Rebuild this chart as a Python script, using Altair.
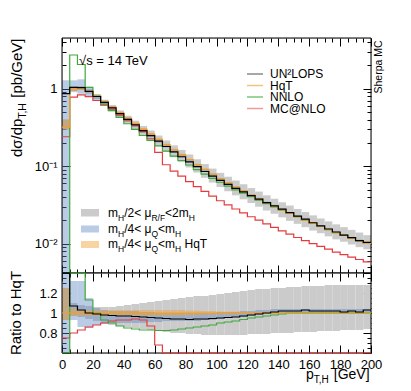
import altair as alt
import pandas as pd

# ---------------- data ----------------
bin_lo = list(range(0, 200, 5))
bin_hi = list(range(5, 205, 5))

# HqT spectrum [pb/GeV] per 5 GeV bin
hqt = [0.32, 0.97, 1.00, 0.92, 0.80, 0.68, 0.58, 0.49, 0.415, 0.355,
       0.30, 0.26, 0.222, 0.19, 0.163, 0.141, 0.122, 0.105, 0.091, 0.079,
       0.069, 0.061, 0.054, 0.048, 0.0425, 0.038, 0.034, 0.0305, 0.0274, 0.0247,
       0.0223, 0.0202, 0.0183, 0.0167, 0.0152, 0.0139, 0.0128, 0.0118, 0.0109, 0.0101]

# ratios to HqT
ratio_un2lops = [2.7, 1.07, 1.03, 1.0, 0.99, 0.98, 0.975, 0.97, 0.97, 0.965,
                 0.96, 0.955, 0.95, 0.945, 0.94, 0.94, 0.935, 0.94, 0.94, 0.945,
                 0.95, 0.955, 0.96, 0.97, 0.98, 0.99, 1.0, 1.01, 1.02, 1.02,
                 1.02, 1.03, 1.02, 1.02, 1.02, 1.02, 1.01, 1.02, 1.01, 1.03]
ratio_nnlo = [0.01, 2.8, 2.05, 1.13, 1.0, 0.93, 0.9, 0.87, 0.85, 0.84,
              0.83, 0.83, 0.825, 0.825, 0.83, 0.84, 0.85, 0.86, 0.87, 0.88,
              0.9, 0.91, 0.92, 0.935, 0.95, 0.96, 0.97, 0.98, 0.99, 1.0,
              1.0, 1.0, 1.0, 1.0, 1.0, 1.0, 1.0, 1.0, 1.0, 1.0]
ratio_mcnlo = [0.75, 0.80, 0.83, 0.86, 0.88, 0.90, 0.92, 0.93, 0.93, 0.94,
               0.93, 0.87, 0.68, 0.55, 0.53, 0.53, 0.52, 0.52, 0.52, 0.52,
               0.52, 0.52, 0.52, 0.52, 0.525, 0.53, 0.53, 0.535, 0.535, 0.54,
               0.54, 0.545, 0.55, 0.555, 0.56, 0.56, 0.565, 0.57, 0.575, 0.58]
ratio_hqt = [1.0, 1.0, 1.0, 1.0, 1.0, 1.0, 1.0, 1.0, 1.0, 1.0,
             1.0, 1.0, 1.0, 1.0, 1.0, 1.0, 1.0, 1.0, 1.0, 1.0,
             1.0, 1.0, 1.0, 1.0, 1.0, 1.0, 1.0, 1.0, 1.0, 1.0,
             1.0, 1.0, 1.0, 1.0, 1.0, 1.0, 1.0, 1.0, 1.0, 1.0]

gray_lo = [0.93, 0.97, 0.96, 0.94, 0.92, 0.90, 0.88, 0.87, 0.86, 0.85,
           0.84, 0.83, 0.82, 0.81, 0.80, 0.80, 0.79, 0.79, 0.78, 0.78,
           0.78, 0.78, 0.78, 0.78, 0.79, 0.79, 0.79, 0.80, 0.80, 0.80,
           0.81, 0.81, 0.81, 0.82, 0.82, 0.82, 0.83, 0.83, 0.83, 0.84]
gray_hi = [1.25, 1.10, 1.08, 1.07, 1.06, 1.06, 1.06, 1.07, 1.08, 1.09,
           1.10, 1.11, 1.12, 1.13, 1.14, 1.15, 1.16, 1.17, 1.17, 1.18,
           1.19, 1.20, 1.21, 1.22, 1.23, 1.24, 1.24, 1.25, 1.25, 1.26,
           1.26, 1.27, 1.27, 1.27, 1.28, 1.28, 1.28, 1.28, 1.28, 1.28]
blue_lo = [0.01, 0.93, 0.86, 0.85, 0.88, 0.89, 0.90, 0.90, 0.90, 0.90,
           0.90, 0.91, 0.91, 0.92, 0.92, 0.92, 0.92, 0.92, 0.93, 0.93,
           0.94, 0.95, 0.96, 0.96, 0.97, 0.98, 0.99, 1.0, 1.0, 1.0,
           1.0, 1.0, 1.0, 1.0, 1.0, 1.0, 1.0, 1.0, 1.0, 1.0]
blue_hi = [4.0, 1.32, 1.32, 1.15, 1.05, 1.03, 1.02, 1.02, 1.02, 1.02,
           1.01, 1.01, 1.0, 1.0, 1.0, 1.0, 1.0, 1.0, 1.0, 1.0,
           1.01, 1.01, 1.01, 1.02, 1.02, 1.03, 1.03, 1.04, 1.04, 1.04,
           1.04, 1.04, 1.04, 1.04, 1.04, 1.04, 1.04, 1.04, 1.04, 1.04]
orange_lo = [0.93, 0.97, 0.97, 0.97, 0.97, 0.97, 0.97, 0.97, 0.97, 0.97,
             0.97, 0.97, 0.97, 0.97, 0.97, 0.97, 0.975, 0.975, 0.98, 0.98,
             0.985, 0.985, 0.985, 0.99, 0.99, 0.99, 0.99, 0.99, 0.99, 0.99,
             0.99, 0.99, 0.99, 0.99, 0.99, 0.99, 0.99, 0.99, 0.99, 0.99]
orange_hi = [1.25, 1.05, 1.03, 1.03, 1.03, 1.03, 1.03, 1.03, 1.03, 1.03,
             1.03, 1.03, 1.03, 1.03, 1.03, 1.03, 1.025, 1.025, 1.02, 1.02,
             1.015, 1.015, 1.015, 1.01, 1.01, 1.01, 1.01, 1.01, 1.01, 1.01,
             1.01, 1.01, 1.01, 1.01, 1.01, 1.01, 1.01, 1.01, 1.01, 1.01]

x_ticks = list(range(0, 205, 5))
x_label_values = [0, 20, 40, 60, 80, 100, 120, 140, 160, 180, 200]
y_top_ticks = [0.005, 0.006, 0.007, 0.008, 0.009,
               0.01, 0.02, 0.03, 0.04, 0.05, 0.06, 0.07, 0.08, 0.09,
               0.1, 0.2, 0.3, 0.4, 0.5, 0.6, 0.7, 0.8, 0.9, 1, 2, 3, 4]
y_top_label_values = [0.01, 0.1, 1]
y_top_labels = ["10\u207b\u00b2", "10\u207b\u00b9", "1"]
y_rat_ticks = [0.6, 0.65, 0.7, 0.75, 0.8, 0.85, 0.9, 0.95, 1.0, 1.05, 1.1,
               1.15, 1.2, 1.25, 1.3, 1.35, 1.4]
y_rat_label_values = [0.8, 1.0, 1.2]
y_rat_labels = ["0.8", "1", "1.2"]

legend_lines = ["UN\u00b2LOPS", "HqT", "NNLO", "MC@NLO"]

# ---------------- style ----------------
W, H_TOP, H_RAT = 309, 235, 80
FONT = "Liberation Sans"
C_BLACK = "#000000"
C_ORANGE = "#f0a030"
C_GREEN = "#3fa83f"
C_RED = "#e43c3c"
C_BLUE = "#5b82c0"
C_GRAY = "#cbcbcb"
legend_colors = ["#8a8a8a", "#f3c27e", "#7dc47d", "#f29a9a"]

x_scale = alt.Scale(domain=[0, 200], nice=False, zero=False)
y_top_scale = alt.Scale(type="log", domain=[0.0042, 4.5], nice=False, clamp=True)
y_rat_scale = alt.Scale(domain=[0.6, 1.4], nice=False, zero=False, clamp=True)


def mul(a, b):
    return [u * v for u, v in zip(a, b)]


def band_layer(lo, hi, color, opacity, yscale):
    df = pd.DataFrame({"x0": bin_lo, "x1": bin_hi, "lo": lo, "hi": hi})
    return alt.Chart(df).mark_rect(color=color, opacity=opacity, clip=True).encode(
        x=alt.X("x0:Q", scale=x_scale, axis=None),
        x2="x1:Q",
        y=alt.Y("lo:Q", scale=yscale, axis=None),
        y2="hi:Q",
    )


def line_layer(vals, color, yscale, width=1.2):
    df = pd.DataFrame({"x": bin_lo + [200], "y": list(vals) + [vals[-1]]})
    return alt.Chart(df).mark_line(interpolate="step-after", color=color,
                                   strokeWidth=width, clip=False).encode(
        x=alt.X("x:Q", scale=x_scale, axis=None),
        y=alt.Y("y:Q", scale=yscale, axis=None),
    )


def frame(height):
    return alt.Chart(pd.DataFrame({"t": [0]})).mark_rect(
        fillOpacity=0, stroke="black", strokeWidth=1).encode(
        x=alt.value(0), x2=alt.value(W), y=alt.value(0), y2=alt.value(height))


def label_expr(values, labels):
    expr = "''"
    for v, l in zip(values, labels):
        expr = f"abs(datum.value - {v}) < {abs(v) * 1e-3 + 1e-9} ? '{l}' : " + expr
    return expr


def axis_layers(yscale, y_ticks, y_major_test, height, y_lab_vals, y_lab_txt, x_labels):
    one = pd.DataFrame({"x": [0], "y": [y_ticks[0]]})
    common = dict(labels=False, domain=False, grid=False, title=None,
                  tickColor="black", tickWidth=1)
    xt = {"condition": {"test": "datum.value % 20 === 0", "value": 8}, "value": 4}
    yt = {"condition": {"test": y_major_test, "value": 8}, "value": 4}
    a = alt.Chart(one).mark_point(opacity=0).encode(
        x=alt.X("x:Q", scale=x_scale, axis=alt.Axis(orient="top", offset=-height,
                                                     values=x_ticks, tickSize=xt, **common)),
        y=alt.Y("y:Q", scale=yscale, axis=alt.Axis(orient="right", offset=-W,
                                                    values=y_ticks, tickSize=yt, **common)),
    )
    b = alt.Chart(one).mark_point(opacity=0).encode(
        x=alt.X("x:Q", scale=x_scale, axis=alt.Axis(orient="bottom", offset=-height,
                                                     values=x_ticks, tickSize=xt, **common)),
        y=alt.Y("y:Q", scale=yscale, axis=alt.Axis(orient="left", offset=-W,
                                                    values=y_ticks, tickSize=yt, **common)),
    )
    lab_y = alt.Axis(orient="left", values=y_lab_vals, labelExpr=label_expr(y_lab_vals, y_lab_txt),
                     ticks=False, domain=False, grid=False, title=None, labelPadding=5,
                     labelFontSize=13, labelColor="black", labelOverlap=False)
    if x_labels:
        lab_x = alt.Axis(orient="bottom", values=x_label_values, ticks=False, domain=False,
                         grid=False, title=None, labelPadding=5, labelFontSize=13,
                         labelColor="black", labelFlush=False, labelOverlap=False)
    else:
        lab_x = None
    c = alt.Chart(one).mark_point(opacity=0).encode(
        x=alt.X("x:Q", scale=x_scale, axis=lab_x),
        y=alt.Y("y:Q", scale=yscale, axis=lab_y),
    )
    return [a, b, c]


def txt(s, x, y, size, angle=0, align="left", baseline="alphabetic", color="black"):
    kw = dict(align=align, baseline=baseline, fontSize=size, color=color, font=FONT)
    if angle:
        kw["angle"] = angle
    return alt.Chart(pd.DataFrame({"t": [s]})).mark_text(**kw).encode(
        text="t:N", x=alt.value(x), y=alt.value(y))


def hrule(x1, x2, y, color, width=1.5):
    return alt.Chart(pd.DataFrame({"t": [0]})).mark_rule(color=color, strokeWidth=width).encode(
        x=alt.value(x1), x2=alt.value(x2), y=alt.value(y))


def box(x1, x2, y1, y2, color, opacity):
    return alt.Chart(pd.DataFrame({"t": [0]})).mark_rect(color=color, opacity=opacity).encode(
        x=alt.value(x1), x2=alt.value(x2), y=alt.value(y1), y2=alt.value(y2))


def seg_width(s, size):
    w = {"m": 833, "H": 722, "/": 278, "2": 556, "4": 556, "<": 584, " ": 278,
         "\u03bc": 576, "R": 722, "F": 611, "Q": 778, "T": 611, "q": 556,
         "d": 556, "\u03c3": 600, "p": 556, ",": 278, "[": 278, "]": 278,
         "b": 556, "G": 778, "e": 556, "V": 667}
    return sum(w.get(ch, 556) for ch in s) * size / 1000.0


def rich_row(segs, x0, y0, big, small, sub_dy):
    # segs: (text, is_subscript, leading_gap_px)
    out = []
    x = x0
    for s, is_sub, gap in segs:
        size = small if is_sub else big
        x += gap
        out.append(txt(s, x, y0 + (sub_dy if is_sub else 0), size))
        x += seg_width(s, size)
    return out


# ---------------- top panel ----------------
un2lops = mul(hqt, ratio_un2lops)
nnlo = mul(hqt, ratio_nnlo)
mcnlo = mul(hqt, ratio_mcnlo)

top_layers = [
    band_layer(mul(hqt, gray_lo), mul(hqt, gray_hi), C_GRAY, 1.0, y_top_scale),
    band_layer(mul(hqt, blue_lo), mul(hqt, blue_hi), C_BLUE, 0.42, y_top_scale),
    band_layer(mul(hqt, orange_lo), mul(hqt, orange_hi), C_ORANGE, 0.45, y_top_scale),
    frame(H_TOP),
    line_layer(mcnlo, C_RED, y_top_scale),
    line_layer(nnlo, C_GREEN, y_top_scale),
    line_layer(hqt, C_ORANGE, y_top_scale),
    line_layer(un2lops, C_BLACK, y_top_scale),
]
top_layers += axis_layers(
    y_top_scale, y_top_ticks,
    "abs(log(datum.value)/LN10 - round(log(datum.value)/LN10)) < 0.001",
    H_TOP, y_top_label_values, y_top_labels, False)

top_layers += [
    txt("\u221as = 14 TeV", 17, 23, 13, baseline="middle"),
    txt("Sherpa MC", 317, 29, 10.5, angle=270, align="center", baseline="middle"),
]
leg_y = [36, 47.5, 59, 70.5]
for lab, col, yy in zip(legend_lines, legend_colors, leg_y):
    top_layers.append(hrule(185, 201, yy, col))
    top_layers.append(txt(lab, 208, yy, 12, baseline="middle"))

top_layers += [
    box(19, 37, 171, 178.5, C_GRAY, 1.0),
    box(19, 37, 187.5, 194.5, C_BLUE, 0.42),
    box(19, 37, 203, 210, C_ORANGE, 0.45),
]
SP12 = seg_width(" ", 12)
rows = [
    ([("m", 0, 0), ("H", 1, 0), ("/2<", 0, 0), ("\u03bc", 0, SP12), ("R/F", 1, 0),
      ("<2m", 0, 0), ("H", 1, 0)], 178.7),
    ([("m", 0, 0), ("H", 1, 0), ("/4<", 0, 0), ("\u03bc", 0, SP12), ("Q", 1, 0),
      ("<m", 0, 0), ("H", 1, 0)], 194.7),
    ([("m", 0, 0), ("H", 1, 0), ("/4<", 0, 0), ("\u03bc", 0, SP12), ("Q", 1, 0),
      ("<m", 0, 0), ("H", 1, 0), ("HqT", 0, SP12)], 210.3),
]
for segs, yb in rows:
    top_layers += rich_row(segs, 46, yb, 12, 8.5, 4)

# y title (rotated, reads bottom to top)
ty_bottom = 156 - 37
tx = -40
w1 = seg_width("d\u03c3/dp", 15)
w2 = seg_width("T,H", 10.5)
w3 = seg_width(" ", 15)
top_layers += [
    txt("d\u03c3/dp", tx, ty_bottom, 15, angle=270),
    txt("T,H", tx + 4, ty_bottom - w1, 10.5, angle=270),
    txt("[pb/GeV]", tx, ty_bottom - w1 - w2 - w3, 15, angle=270),
]
top_layers += [
    alt.Chart(pd.DataFrame({"t": [0]})).mark_rule(opacity=0).encode(
        x=alt.value(-53), y=alt.value(-29), y2=alt.value(-25)),
]

top = alt.layer(*top_layers).resolve_axis(x="independent", y="independent").properties(
    width=W, height=H_TOP)

# ---------------- ratio panel ----------------
rat_layers = [
    band_layer(gray_lo, gray_hi, C_GRAY, 1.0, y_rat_scale),
    band_layer(blue_lo, blue_hi, C_BLUE, 0.42, y_rat_scale),
    band_layer(orange_lo, orange_hi, C_ORANGE, 0.45, y_rat_scale),
    frame(H_RAT),
    line_layer(ratio_mcnlo, C_RED, y_rat_scale),
    line_layer(ratio_nnlo, C_GREEN, y_rat_scale),
    line_layer(ratio_hqt, C_ORANGE, y_rat_scale),
    line_layer(ratio_un2lops, C_BLACK, y_rat_scale),
]
rat_layers += axis_layers(
    y_rat_scale, y_rat_ticks,
    "abs(datum.value*5 - round(datum.value*5)) < 0.001",
    H_RAT, y_rat_label_values, y_rat_labels, True)
px0 = 244
rat_layers += [
    txt("Ratio to HqT", -46, 40, 15, angle=270, align="center", baseline="middle"),
    txt("p", px0, 105.5, 14),
    txt("T,H", px0 + seg_width("p", 14), 109.5, 10),
    txt("[GeV]", px0 + seg_width("p", 14) + seg_width("T,H", 10) + seg_width(" ", 14), 105.5, 14),
]
bottom = alt.layer(*rat_layers).resolve_axis(x="independent", y="independent").properties(
    width=W, height=H_RAT)

chart = alt.vconcat(top, bottom, spacing=0, bounds="flush").properties(
    padding={"left": 0, "top": 0, "right": 0, "bottom": 0}
).configure_view(strokeWidth=0).configure(font=FONT).configure_axis(
    labelFont=FONT, titleFont=FONT)

chart.save("out.html", embed_options={"renderer": "svg", "actions": False})
